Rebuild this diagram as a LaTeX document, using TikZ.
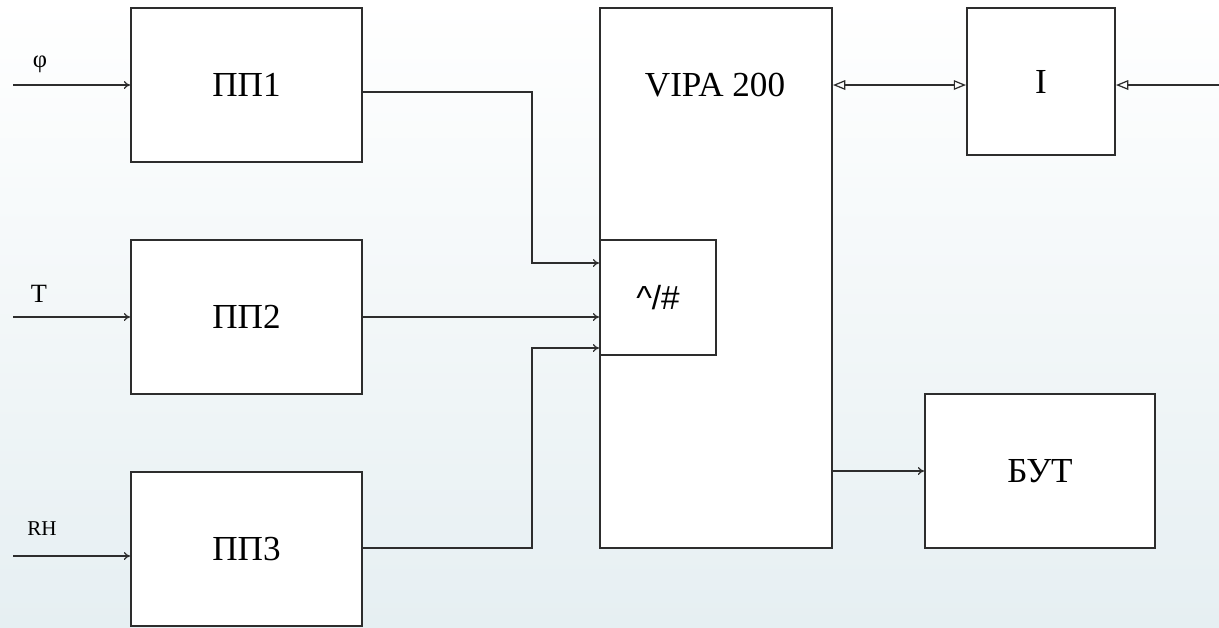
\documentclass[tikz,border=0pt]{standalone}
\usepackage{fontspec}
\setmainfont{Liberation Serif}
\newfontfamily\arialfont{Liberation Sans}
\usetikzlibrary{arrows.meta,calc}
\definecolor{bgc}{RGB}{230,239,242}
\definecolor{linec}{RGB}{45,45,45}
\tikzset{
  blk/.style={draw=linec, line width=1.1pt, fill=white, inner sep=0pt, font=\fontsize{20}{24}\selectfont},
  arr/.style={draw=linec, line width=0.7pt, -{To[length=3.5pt,width=4.5pt]}},
  oarr/.style={draw=linec, line width=0.7pt, -{Triangle[open,length=7pt,width=5.5pt]}},
  darr/.style={draw=linec, line width=0.7pt, {Triangle[open,length=7pt,width=5.5pt]}-{Triangle[open,length=7pt,width=5.5pt]}},
  lbl/.style={inner sep=0pt}
}
\begin{document}
\begin{tikzpicture}[x=0.02cm,y=-0.02cm]
\useasboundingbox (0,0) rectangle (1219,627);
\shade[top color=white, bottom color=bgc] (0,0) rectangle (1219,627);
% boxes
\node[blk, minimum width=231*0.02cm, minimum height=154*0.02cm] (pp1) at (246.5,85) {ПП1};
\node[blk, minimum width=231*0.02cm, minimum height=154*0.02cm] (pp2) at (246.5,317) {ПП2};
\node[blk, minimum width=231*0.02cm, minimum height=154*0.02cm] (pp3) at (246.5,549) {ПП3};
\node[blk, minimum width=232*0.02cm, minimum height=540*0.02cm] (vipa) at (716,278) {};
\node[lbl, font=\fontsize{20}{24}\selectfont] (vipat) at (715,85) {VIPA 200};
\node[blk, minimum width=116*0.02cm, minimum height=115*0.02cm, font=\arialfont\fontsize{19}{23}\selectfont] (adc) at (658,297.5) {\^{}/\#};
\node[blk, minimum width=148*0.02cm, minimum height=147*0.02cm] (ii) at (1041,81.5) {I};
\node[blk, minimum width=230*0.02cm, minimum height=154*0.02cm] (but) at (1040,471) {БУТ};
% input labels
\node[lbl, font=\fontsize{14}{17}\selectfont] (lphi) at (40,64) {φ};
\node[lbl, font=\fontsize{15}{18}\selectfont] (lt) at (39,294) {T};
\node[lbl, font=\fontsize{12}{14}\selectfont] (lrh) at (42,529) {RH};
% inputs
\coordinate (inphi) at (13,85);
\coordinate (int) at (13,317);
\coordinate (inrh) at (13,556);
\draw[arr] (inphi) -- (pp1.west |- inphi);
\draw[arr] (int) -- (pp2.west |- int);
\draw[arr] (inrh) -- (pp3.west |- inrh);
% to ADC
\draw[arr] ($(pp1.east)+(0,7)$) -- (532,92) -- (532,263) -- (adc.west |- 532,263);
\draw[arr] (pp2.east) -- (adc.west |- pp2.east);
\draw[arr] ($(pp3.east)+(0,-1)$) -- (532,548) -- (532,348) -- (adc.west |- 532,348);
% VIPA <-> I
\draw[darr] (vipa.east |- 0,85) -- (ii.west |- 0,85);
\coordinate (inI) at (1219,85);
\draw[oarr] (inI) -- (ii.east |- inI);
% VIPA -> BUT
\draw[arr] (vipa.east |- but.west) -- (but.west);
\end{tikzpicture}
\end{document}
